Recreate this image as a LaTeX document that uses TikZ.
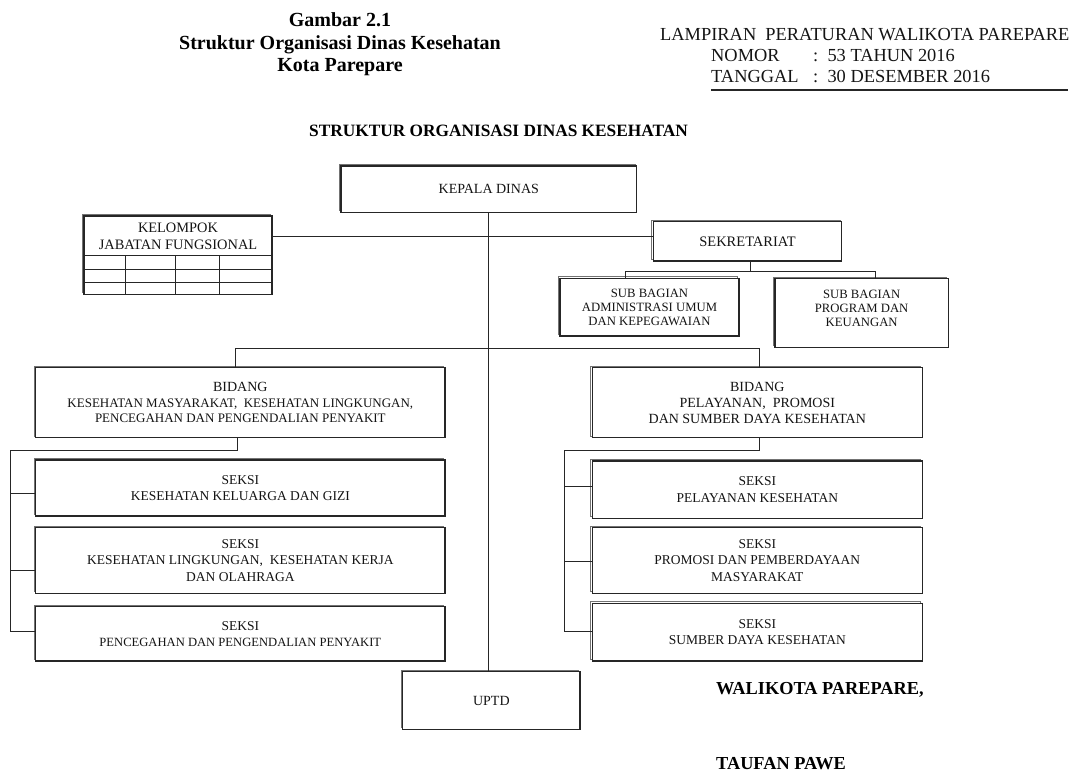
\documentclass[tikz,border=0pt]{standalone}
\usepackage{fontspec}
\setmainfont{Liberation Serif}
\usetikzlibrary{shadows}
\begin{document}
\begin{tikzpicture}[x=1pt,y=-1pt,
  box/.style={draw=black!85, line width=1.2pt, fill=white, inner sep=0pt, align=center, text=black!92,
     copy shadow={shadow xshift=-1.6pt, shadow yshift=1.6pt, draw=black!55, line width=1.1pt, fill=white}},
  conn/.style={draw=black!85, line width=1pt},
  grid/.style={draw=black!85, line width=1pt},
  ttl/.style={font=\fontsize{20}{24}\selectfont\bfseries, anchor=base},
  hdr/.style={font=\fontsize{18.4}{20}\selectfont, anchor=base west, inner sep=0pt, text=black!92},
  sig/.style={font=\fontsize{18.3}{20}\selectfont\bfseries, anchor=base west, inner sep=0pt},
  fbig/.style={font=\fontsize{14}{16}\selectfont},
  fmid/.style={font=\fontsize{13.5}{16.2}\selectfont},
  fsml/.style={font=\fontsize{13}{15.5}\selectfont},
  fsub/.style={font=\fontsize{12.7}{14.2}\selectfont},
]
\useasboundingbox (0,0) rectangle (1078,773);

% ---------- titles ----------
\node[ttl] (t1) at (340,26.5) {Gambar 2.1};
\node[ttl] (t2) at (340,50) {Struktur Organisasi Dinas Kesehatan};
\node[ttl] (t3) at (340,72) {Kota Parepare};

\node[hdr] (h1) at (660,41) {LAMPIRAN\ \ PERATURAN WALIKOTA PAREPARE};
\node[hdr] (h2) at (711,62) {NOMOR};
\node[hdr] (h2c) at (813,62) {:\ \ 53 TAHUN 2016};
\node[hdr] (h3) at (711,83) {TANGGAL};
\node[hdr] (h3c) at (813,83) {:\ \ 30 DESEMBER 2016};
\draw[line width=1.2pt, black!85] (h3.south west |- 0,90) -- (1068,90);

\node[font=\fontsize{17.3}{20}\selectfont\bfseries, anchor=base west, inner sep=0pt] (head) at (309,136.5) {STRUKTUR ORGANISASI DINAS KESEHATAN};

% ---------- boxes ----------
\node[box, fbig, minimum width=295.7pt, minimum height=46.5pt] (kep) at (488.8,189.2) {KEPALA DINAS};

\node[box, minimum width=188pt, minimum height=78.3pt] (kjf) at (178,255.15) {};
\node[align=center, inner sep=0pt, text=black!92, font=\fontsize{14.4}{16.5}\selectfont] (kjft) at (178,236.5) {KELOMPOK\\JABATAN FUNGSIONAL};
\draw[grid] (kjf.west |- 0,255.7) -- (kjf.east |- 0,255.7);
\draw[grid] (kjf.west |- 0,269) -- (kjf.east |- 0,269);
\draw[grid] (kjf.west |- 0,282) -- (kjf.east |- 0,282);
\draw[grid] (125,255.7) -- (kjf.south -| 125,0);
\draw[grid] (175.7,255.7) -- (kjf.south -| 175.7,0);
\draw[grid] (219,255.7) -- (kjf.south -| 219,0);

\node[box, font=\fontsize{14.5}{16}\selectfont, minimum width=188.4pt, minimum height=39.3pt] (sek) at (747.5,241.35) {SEKRETARIAT};

\node[box, fsub, minimum width=179pt, minimum height=57.7pt] (sub1) at (649.5,307.15) {SUB BAGIAN\\ADMINISTRASI UMUM\\DAN KEPEGAWAIAN};
\node[box, minimum width=173.3pt, minimum height=68.6pt] (sub2) at (861.65,313) {};
\node[fsub, align=center, inner sep=0pt, text=black!92] (sub2t) at (861.65,308.5) {SUB BAGIAN\\PROGRAM DAN\\KEUANGAN};

\node[box, fsml, minimum width=409.3pt, minimum height=70pt] (bid1) at (240.35,402.7)
  {{\fontsize{14}{15.5}\selectfont BIDANG}\\KESEHATAN MASYARAKAT,\ \ KESEHATAN LINGKUNGAN,\\PENCEGAHAN DAN PENGENDALIAN PENYAKIT};
\node[box, fbig, minimum width=330pt, minimum height=70pt] (bid2) at (757.3,402.7)
  {BIDANG\\PELAYANAN,\ \ PROMOSI\\DAN SUMBER DAYA KESEHATAN};

\node[box, fmid, minimum width=409.3pt, minimum height=56pt] (ls1) at (240.35,488) {SEKSI\\KESEHATAN KELUARGA DAN GIZI};
\node[box, fmid, minimum width=409.3pt, minimum height=65.6pt] (ls2) at (240.35,560.5) {SEKSI\\KESEHATAN LINGKUNGAN,\ \ KESEHATAN KERJA\\DAN OLAHRAGA};
\node[box, fmid, minimum width=409.3pt, minimum height=54.3pt] (ls3) at (240.35,633.85) {SEKSI\\{\fontsize{12.6}{16.2}\selectfont PENCEGAHAN DAN PENGENDALIAN PENYAKIT}};

\node[box, fmid, minimum width=330pt, minimum height=57.3pt] (rs1) at (757.3,489.65) {SEKSI\\PELAYANAN KESEHATAN};
\node[box, fmid, minimum width=330pt, minimum height=65.6pt] (rs2) at (757.3,560.5) {SEKSI\\PROMOSI DAN PEMBERDAYAAN\\MASYARAKAT};
\node[box, fmid, minimum width=330pt, minimum height=57.7pt] (rs3) at (757.3,632.15) {SEKSI\\SUMBER DAYA KESEHATAN};

\node[box, fbig, minimum width=177.3pt, minimum height=57.6pt] (uptd) at (491.35,700.5) {UPTD};

% ---------- connectors ----------
\draw[conn] (kep.south -| 488.5,0) -- (uptd.north -| 488.5,0);
\draw[conn] (kjf.east |- kjft) -- (sek.west |- kjft);
\draw[conn] (sek.south -| 750.7,0) -- (750.7,271);
\draw[conn] (sub1.north -| 625,0) -- (625,271) -- (875,271) -- (sub2.north -| 875,0);
\draw[conn] (bid1.north -| 235.7,0) -- (235.7,348.3) -- (759.7,348.3) -- (bid2.north -| 759.7,0);

\draw[conn] (bid1.south -| 237.7,0) -- (237.7,450) -- (10,450) -- (10,631) -- (ls3.west |- 0,631);
\draw[conn] (10,493.3) -- (ls1.west |- 0,493.3);
\draw[conn] (10,570) -- (ls2.west |- 0,570);

\draw[conn] (bid2.south -| 759.7,0) -- (759.7,450) -- (564.3,450) -- (564.3,631) -- (rs3.west |- 0,631);
\draw[conn] (564.3,486.7) -- (rs1.west |- 0,486.7);
\draw[conn] (564.3,561.7) -- (rs2.west |- 0,561.7);

% ---------- signature ----------
\node[sig] (w1) at (716,694.5) {WALIKOTA PAREPARE,};
\node[sig] (w2) at (716,769.5) {TAUFAN PAWE};
\end{tikzpicture}
\end{document}
